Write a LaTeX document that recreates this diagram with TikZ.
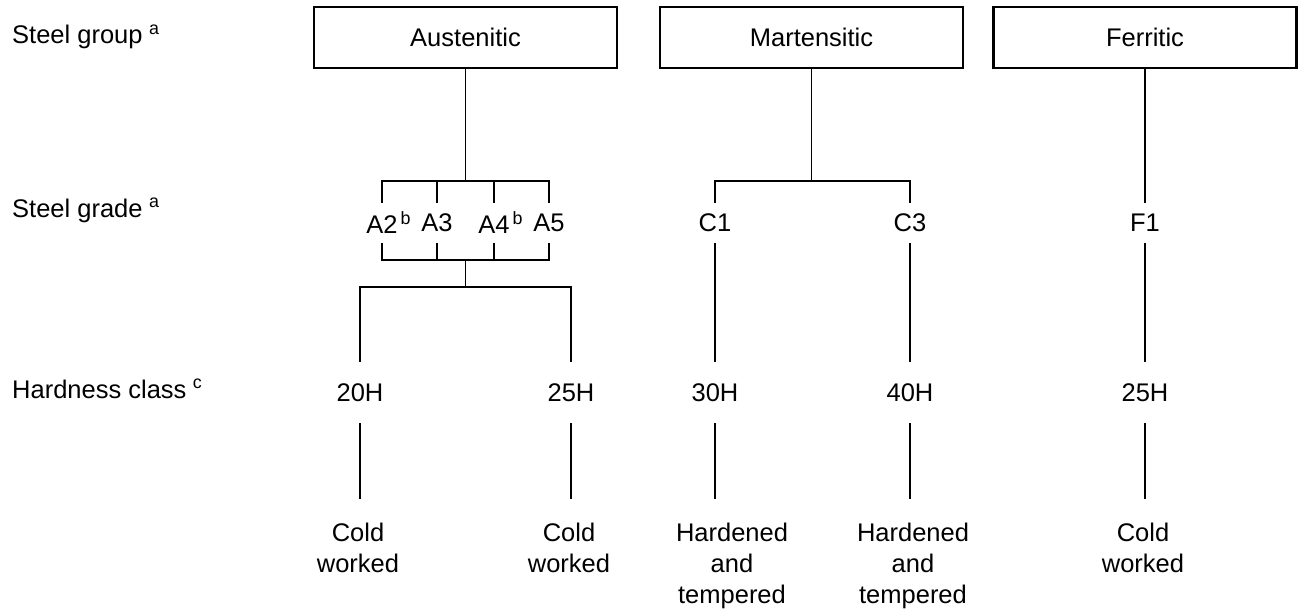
\documentclass[tikz,border=0pt]{standalone}
\usepackage{fontspec}
\setmainfont{Liberation Sans}
\newcommand{\supmark}[1]{\hspace{0.25em}\textsuperscript{#1}}
\newcommand{\supgrade}[1]{\rlap{\hspace{0.12em}\textsuperscript{#1}}}
\begin{document}
\begin{tikzpicture}[x=1pt,y=-1pt,
  every node/.style={font=\fontsize{25.5}{31}\selectfont, inner sep=0pt},
  conn/.style={line width=1.3pt},
  groupbox/.style={draw, line width=2.2pt, minimum width=303pt, minimum height=61pt},
  gradenode/.style={minimum height=40pt},
  hardnode/.style={minimum height=61pt},
  treatnode/.style={anchor=north, align=center, inner ysep=24pt},
  rowlabel/.style={anchor=base west}]
\useasboundingbox (0,0) rectangle (1302,610);

% row labels
\node[rowlabel] (lgroup) at (12,44) {Steel group\supmark{a}};
\node[rowlabel] (lgrade) at (12,217) {Steel grade\supmark{a}};
\node[rowlabel] (lhard) at (12,398) {Hardness class\supmark{c}};

% steel groups
\node[groupbox] (aus) at (465.5,37.5) {Austenitic};
\node[groupbox] (mar) at (811.5,37.5) {Martensitic};
\node[groupbox] (fer) at (1145,37.5) {Ferritic};

% steel grades
\node[gradenode] (A2) at (382,223) {A2\supgrade{b}};
\node[gradenode] (A3) at (437,223) {A3};
\node[gradenode] (A4) at (494,223) {A4\supgrade{b}};
\node[gradenode] (A5) at (549,223) {A5};
\node[gradenode] (C1) at (715,223) {C1};
\node[gradenode] (C3) at (910,223) {C3};
\node[gradenode] (F1) at (1145,223) {F1};

% hardness classes
\node[hardnode] (h20) at (360,392.5) {20H};
\node[hardnode] (h25a) at (571,392.5) {25H};
\node[hardnode] (h30) at (715,392.5) {30H};
\node[hardnode] (h40) at (910,392.5) {40H};
\node[hardnode] (h25b) at (1145,392.5) {25H};

% treatments
\node[treatnode] (t20) at (358,499) {Cold\\worked};
\node[treatnode] (t25a) at (569,499) {Cold\\worked};
\node[treatnode] (t30) at (732,499) {Hardened\\and\\tempered};
\node[treatnode] (t40) at (913,499) {Hardened\\and\\tempered};
\node[treatnode] (t25b) at (1143,499) {Cold\\worked};

% junctions
\coordinate (aJ) at (465.5,181);
\coordinate (aK) at (465.5,260);
\coordinate (aL) at (465.5,287);
\coordinate (mJ) at (811.5,181);

% austenitic
\draw[conn] (aus.south) -- (aJ);
\draw[conn] (A2.north) |- (A5.north |- aJ) -- (A5.north);
\draw[conn] (A3.north) -- (A3.north |- aJ);
\draw[conn] (A4.north) -- (A4.north |- aJ);
\draw[conn] (A2.south) |- (A5.south |- aK) -- (A5.south);
\draw[conn] (A3.south) -- (A3.south |- aK);
\draw[conn] (A4.south) -- (A4.south |- aK);
\draw[conn] (aK) -- (aL);
\draw[conn] (h20.north) |- (h25a.north |- aL) -- (h25a.north);

% martensitic
\draw[conn] (mar.south) -- (mJ);
\draw[conn] (C1.north) |- (C3.north |- mJ) -- (C3.north);
\draw[conn] (C1.south) -- (h30.north);
\draw[conn] (C3.south) -- (h40.north);

% ferritic
\draw[conn] (fer.south) -- (F1.north);
\draw[conn] (F1.south) -- (h25b.north);

% hardness to treatment
\draw[conn] (h20.south) -- (h20.south |- t20.north);
\draw[conn] (h25a.south) -- (h25a.south |- t25a.north);
\draw[conn] (h30.south) -- (h30.south |- t30.north);
\draw[conn] (h40.south) -- (h40.south |- t40.north);
\draw[conn] (h25b.south) -- (h25b.south |- t25b.north);
\end{tikzpicture}
\end{document}
